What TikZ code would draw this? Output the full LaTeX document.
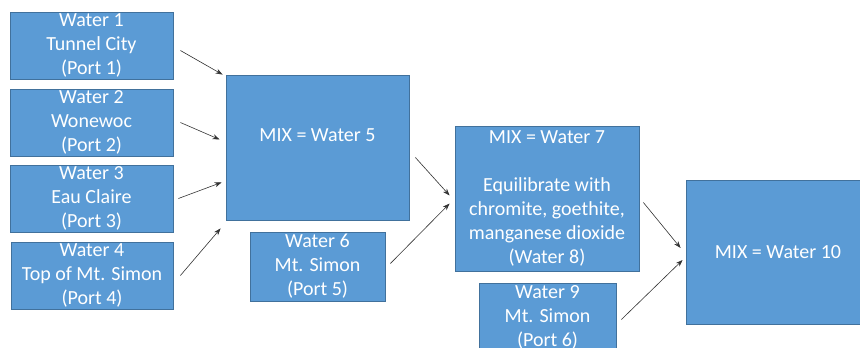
\documentclass[tikz,border=0pt]{standalone}
\usepackage{fontspec}
\setmainfont{Carlito}
\usepackage{tikz}
\usetikzlibrary{arrows,arrows.meta,positioning}
\definecolor{boxblue}{HTML}{5B9BD5}
\definecolor{boxedge}{HTML}{41719C}
\tikzstyle{arrow} = [line width=0.6pt,->,>={Stealth[length=7pt,width=5pt]},black!80]
\tikzstyle{wbox} = [draw=boxedge, line width=0.8pt, fill=boxblue, text=white,
    inner sep=0pt, align=center, font=\fontsize{20}{24}\selectfont]

\begin{document}
\begin{tikzpicture}[x=1pt,y=-1pt]
                    \useasboundingbox (0,0) rectangle (860,348);
                    % source waters
                    \node[wbox, minimum width=163pt, minimum height=67pt] (w1) at (91.5,45.5) {Water 1\\Tunnel City\\(Port 1)};
                    \node[wbox, minimum width=163pt, minimum height=67pt] (w2) at (91.5,122.5) {Water 2\\Wonewoc\\(Port 2)};
                    \node[wbox, minimum width=163pt, minimum height=67pt] (w3) at (91.5,198.5) {Water 3\\Eau Claire\\(Port 3)};
                    \node[wbox, minimum width=162pt, minimum height=67pt] (w4) at (92,275.5) {Water 4\\Top of Mt. Simon\\(Port 4)};
                    % mixes
                    \node[wbox, minimum width=183pt, minimum height=145pt] (m5) at (317.5,147.5) {MIX = Water 5\\~};
                    \node[wbox, minimum width=135pt, minimum height=69pt] (w6) at (317.5,266.5) {Water 6\\Mt. Simon\\(Port 5)};
                    \node[wbox, minimum width=184pt, minimum height=145pt] (m7) at (547,198.5) {MIX = Water 7\\[24pt]Equilibrate with\\chromite, goethite,\\manganese dioxide\\(Water 8)};
                    \node[wbox, minimum width=137pt, minimum height=69pt] (w9) at (547.5,317.5) {Water 9\\Mt. Simon\\(Port 6)};
                    \node[wbox, minimum width=184pt, minimum height=144pt] (m10) at (778,252) {MIX = Water 10};
                    % arrows
                    \draw[arrow] ([xshift=7pt,yshift=-5pt]w1.east) -- ([xshift=-3pt]m5.north west);
                    \draw[arrow] ([xshift=7pt]w2.east) -- ([xshift=-6pt,yshift=8pt]m5.west);
                    \draw[arrow] ([xshift=5pt]w3.east) -- ([xshift=-4pt,yshift=38pt]m5.south west);
                    \draw[arrow] ([xshift=7pt]w4.east) -- ([xshift=-5pt,yshift=-8pt]m5.south west);
                    \draw[arrow] ([xshift=6pt,yshift=-10pt]m5.east) -- ([xshift=-5pt,yshift=3pt]m7.west);
                    \draw[arrow] ([xshift=5pt,yshift=3pt]w6.east) -- ([xshift=-5pt,yshift=-5pt]m7.west);
                    \draw[arrow] ([xshift=4pt,yshift=-4pt]m7.east) -- ([xshift=-5pt,yshift=4pt]m10.west);
                    \draw[arrow] ([xshift=5pt,yshift=-2pt]w9.east) -- ([xshift=-3pt,yshift=-8pt]m10.west);
                \end{tikzpicture}
\end{document}
